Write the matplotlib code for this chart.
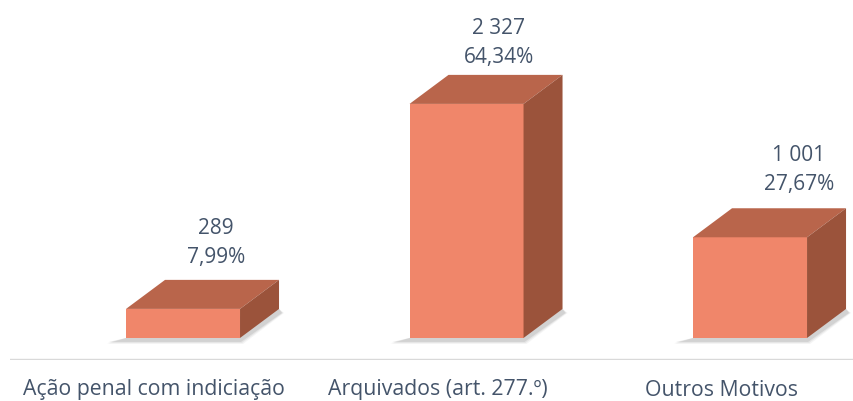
import matplotlib
matplotlib.use('Agg')
import matplotlib.pyplot as plt
from matplotlib.patches import Polygon

# dados do gráfico
categorias = ['Ação penal com indiciação', 'Arquivados (art. 277.º)', 'Outros Motivos']
valores = [289, 2327, 1001]
rotulos = ['289', '2 327', '1 001']
percentagens = ['7,99%', '64,34%', '27,67%']

plt.rcParams['font.family'] = ['Open Sans', 'DejaVu Sans']
cor_texto = '#44546A'
cor_frente = '#F0866A'
cor_topo = '#B9654B'
cor_lado = '#9B533B'

fig = plt.figure(figsize=(8.54, 4.01), dpi=100)
ax = fig.add_axes([10/854, 41/401, 844/854, 360/401])
ax.set_xlim(-0.508, 2.469)
ax.set_ylim(-219, 3360)
ax.axis('off')

# conversao pixel -> unidades de dados
px = 1/283.5
py = 1/0.1005
esq, dir_ = 28*px, 86*px      # face da frente relativa a categoria
dx, dy = 39*px, 29*py         # profundidade 3d
desl_x = [62, 61, 78]         # posicao dos rotulos (pixels)
desl_y = [22, 17, 24]

for i, v in enumerate(valores):
    fl, fr = i - esq, i + dir_
    # sombra suave
    for k, a in zip([3, 2, 1], [0.08, 0.12, 0.18]):
        sombra = Polygon([(fl - (16+k)*px, -(3+k)*py), (fr + k*px, -(3+k)*py),
                          (fr + dx + (2+k)*px, dy - 4*py), (fr + dx, dy), (fl, 0)],
                         closed=True, facecolor='#7F7F7F', edgecolor='none', alpha=a, zorder=1)
        ax.add_patch(sombra)
    ax.add_patch(Polygon([(fl, 0), (fr, 0), (fr, v), (fl, v)], closed=True,
                         facecolor=cor_frente, edgecolor='none', zorder=3))
    ax.add_patch(Polygon([(fl, v), (fr, v), (fr + dx, v + dy), (fl + dx, v + dy)], closed=True,
                         facecolor=cor_topo, edgecolor='none', zorder=3))
    ax.add_patch(Polygon([(fr, 0), (fr + dx, dy), (fr + dx, v + dy), (fr, v)], closed=True,
                         facecolor=cor_lado, edgecolor='none', zorder=3))
    xl = i + desl_x[i]*px
    ax.annotate(percentagens[i], xy=(xl, v + dy), xytext=(0, desl_y[i]), textcoords='offset pixels',
                ha='center', va='center', fontsize=15, color=cor_texto)
    ax.annotate(rotulos[i], xy=(xl, v + dy), xytext=(0, desl_y[i] + 29), textcoords='offset pixels',
                ha='center', va='center', fontsize=15, color=cor_texto)
    ax.annotate(categorias[i], xy=(i, 0), xycoords=('data', 'axes fraction'),
                xytext=(0, -30), textcoords='offset pixels',
                ha='center', va='center', fontsize=15.3, color=cor_texto, annotation_clip=False)

ax.axhline(-212, color='#D9D9D9', lw=1, zorder=0)

fig.savefig('out.png', dpi=100)
